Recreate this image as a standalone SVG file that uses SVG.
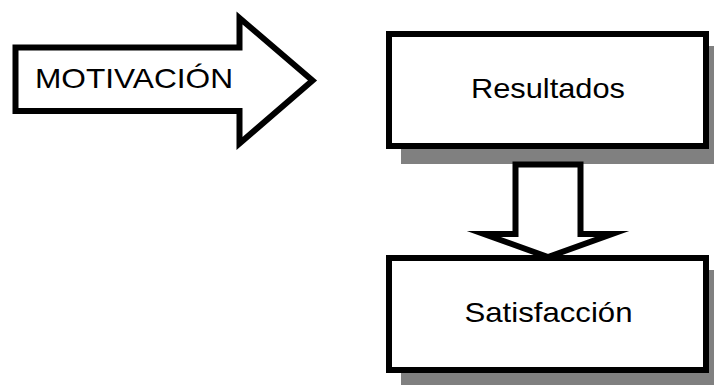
<svg xmlns="http://www.w3.org/2000/svg" width="714" height="385" viewBox="0 0 714 385">
  <style>
    .shape { fill: #ffffff; stroke: #000000; stroke-width: 6; stroke-linejoin: miter; stroke-miterlimit: 12; }
    .shadow { fill: #808080; stroke: none; }
    .label { font-family: "Liberation Sans", Arial, sans-serif; font-size: 28px; fill: #000000; }
  </style>
  <rect x="0" y="0" width="714" height="385" fill="#ffffff"/>
  <g id="motivacion">
    <polygon class="shape" points="15.5,47.5 239.5,47.5 239.5,18 312.5,80.5 239.5,143.5 239.5,111 15.5,111"/>
    <text class="label" x="35" y="87.7" textLength="198" lengthAdjust="spacingAndGlyphs">MOTIVACIÓN</text>
  </g>
  <g id="resultados">
    <rect class="shadow" x="401" y="46" width="323" height="118"/>
    <rect class="shape" x="389" y="34" width="317" height="112"/>
    <text class="label" x="471" y="97.5" textLength="154" lengthAdjust="spacingAndGlyphs">Resultados</text>
  </g>
  <g id="connectors">
    <polygon class="shape" points="515.5,164.5 580.5,164.5 580.5,234 612,234 548,257 484,234 515.5,234"/>
  </g>
  <g id="satisfaccion">
    <rect class="shadow" x="401" y="270" width="323" height="118"/>
    <rect class="shape" x="389" y="258" width="317" height="112"/>
    <text class="label" x="464.5" y="321.7" textLength="168" lengthAdjust="spacingAndGlyphs">Satisfacción</text>
  </g>
</svg>
